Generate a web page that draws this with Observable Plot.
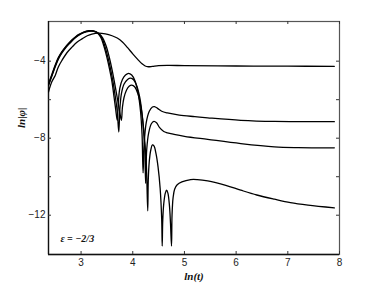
<!DOCTYPE html>
<html>
<head>
<meta charset="utf-8">
<script src="https://cdn.jsdelivr.net/npm/d3@7"></script>
<script src="https://cdn.jsdelivr.net/npm/@observablehq/plot@0.6"></script>
<style>
  html, body { margin: 0; padding: 0; background: #fff; }
  #chart svg { display: block; }
</style>
</head>
<body>
<div id="chart"></div>
<script>
// Axis settings
const xDomain = [2.37, 8];
const yDomain = [-14.04, -1.94];
const xTicks = [3, 4, 5, 6, 7, 8];
const yTicks = [-12, -10, -8, -6, -4];
const yTickLabels = [-12, -8, -4];
const xLabel = "ln(t)";
const yLabel = "ln|φ|";
const note = "ε = −2/3";

// Series values: [ln(t), ln|phi|]
const curveA = [
  [2.37,-5.6],[2.43,-5.1],[2.5,-4.74],[2.56,-4.3],[2.63,-3.96],[2.73,-3.55],[2.825,-3.27],
  [2.92,-3.02],[3.02,-2.84],[3.12,-2.68],[3.21,-2.59],[3.34,-2.54],[3.47,-2.58],[3.6,-2.68],
  [3.7,-2.8],[3.8,-3.0],[3.9,-3.3],[4.0,-3.62],[4.1,-3.92],[4.18,-4.14],[4.24,-4.25],
  [4.3,-4.29],[4.38,-4.27],[4.5,-4.23],[4.7,-4.22],[5.0,-4.23],[6.0,-4.25],[7.0,-4.26],[7.9,-4.27]
];
const curveB = [
  [2.37,-5.17],[2.44,-4.65],[2.5,-4.2],[2.565,-3.79],[2.63,-3.5],[2.695,-3.27],[2.76,-3.07],
  [2.825,-2.89],[2.89,-2.74],[2.95,-2.62],[3.05,-2.49],[3.15,-2.42],[3.22,-2.42],[3.3,-2.5],
  [3.38,-2.75],[3.44,-3.2],[3.5,-3.8],[3.55,-4.4],[3.6,-5.1],[3.64,-5.9],[3.67,-6.5],[3.70,-7.07],
  [3.72,-6.2],[3.75,-5.4],[3.8,-4.95],[3.86,-4.72],[3.92,-4.63],[3.98,-4.72],[4.04,-5.0],
  [4.1,-5.6],[4.15,-6.6],[4.18,-7.8],[4.2,-9.8],
  [4.22,-8.3],[4.26,-7.2],[4.32,-6.6],[4.38,-6.38],[4.42,-6.36],[4.48,-6.45],[4.56,-6.6],
  [4.67,-6.69],[4.9,-6.8],[5.2,-6.88],[5.45,-6.94],[6.09,-7.07],[6.74,-7.13],[7.9,-7.14]
];
const curveC = [
  [2.37,-5.22],[2.44,-4.7],[2.5,-4.25],[2.565,-3.83],[2.63,-3.53],[2.695,-3.3],[2.76,-3.1],
  [2.825,-2.92],[2.89,-2.76],[2.95,-2.64],[3.05,-2.5],[3.15,-2.43],[3.23,-2.43],[3.32,-2.52],
  [3.40,-2.78],[3.46,-3.22],[3.52,-3.8],[3.57,-4.4],[3.62,-5.1],[3.66,-5.8],[3.70,-6.6],[3.73,-7.68],
  [3.75,-6.5],[3.78,-5.7],[3.83,-5.2],[3.9,-4.95],[3.96,-4.88],[4.02,-4.98],[4.08,-5.3],
  [4.14,-5.95],[4.19,-7.0],[4.23,-8.4],[4.25,-10.35],
  [4.27,-8.6],[4.31,-7.7],[4.36,-7.25],[4.41,-7.13],[4.46,-7.2],[4.52,-7.45],[4.6,-7.65],
  [4.67,-7.72],[4.8,-7.8],[5.0,-7.9],[5.45,-8.06],[6.09,-8.28],[6.74,-8.45],[7.2,-8.49],[7.9,-8.5]
];
const curveD = [
  [2.37,-5.26],[2.44,-4.74],[2.5,-4.29],[2.565,-3.87],[2.63,-3.57],[2.695,-3.33],[2.76,-3.13],
  [2.825,-2.95],[2.89,-2.79],[2.95,-2.67],[3.05,-2.52],[3.15,-2.45],[3.24,-2.45],[3.34,-2.55],
  [3.42,-2.8],[3.49,-3.25],[3.55,-3.85],[3.60,-4.45],[3.65,-5.15],[3.70,-5.9],[3.74,-6.5],[3.78,-7.07],
  [3.80,-6.4],[3.83,-5.9],[3.88,-5.5],[3.93,-5.3],[3.98,-5.24],[4.04,-5.34],[4.1,-5.7],
  [4.16,-6.4],[4.21,-7.5],[4.26,-9.2],[4.29,-11.77],
  [4.30,-10.2],[4.32,-9.2],[4.35,-8.6],[4.38,-8.35],[4.41,-8.4],[4.45,-8.8],[4.49,-9.5],
  [4.53,-10.6],[4.56,-12.2],[4.57,-13.6],
  [4.58,-12.3],[4.6,-11.4],[4.63,-10.85],[4.655,-10.7],[4.68,-10.85],[4.71,-11.5],[4.73,-12.4],[4.75,-13.6],
  [4.76,-12.0],[4.78,-11.1],[4.81,-10.65],[4.86,-10.42],[4.95,-10.27],[5.12,-10.15],[5.25,-10.15],
  [5.45,-10.22],[5.8,-10.45],[6.09,-10.7],[6.4,-10.95],[6.74,-11.17],[7.05,-11.35],[7.39,-11.48],[7.9,-11.62]
];

const series = {A: curveA, B: curveB, C: curveC, D: curveD};
const rows = Object.entries(series).flatMap(([name, pts]) =>
  pts.map(([x, y]) => ({series: name, x, y})));

const W = 374, H = 286;
const mL = 48, mR = 35, mT = 21, mB = 32;
const innerW = W - mL - mR, innerH = H - mT - mB;
const tickLen = 3;

const chart = Plot.plot({
  width: W, height: H,
  marginLeft: mL, marginRight: mR, marginTop: mT, marginBottom: mB,
  style: {fontFamily: "'Liberation Sans', Arial, sans-serif", fontSize: "10px", color: "#222", background: "#fff"},
  x: {domain: xDomain, label: null},
  y: {domain: yDomain, label: null},
  marks: [
    Plot.frame({stroke: "#555", strokeWidth: 1.2}),
    Plot.ruleX([xDomain[0]], {stroke: "#111", strokeWidth: 1.3}),
    Plot.ruleY([yDomain[0]], {stroke: "#111", strokeWidth: 1.3}),
    // inward ticks
    Plot.tickX(xTicks, {x: d => d, insetTop: innerH - tickLen, stroke: "#333"}),
    Plot.tickX(xTicks, {x: d => d, insetBottom: innerH - tickLen, stroke: "#333"}),
    Plot.tickY(yTicks, {y: d => d, insetRight: innerW - tickLen, stroke: "#333"}),
    Plot.tickY(yTicks, {y: d => d, insetLeft: innerW - tickLen, stroke: "#333"}),
    Plot.axisX({ticks: xTicks, tickSize: 0, tickPadding: 4, label: null, tickFormat: d => String(d)}),
    Plot.axisY({ticks: yTickLabels, tickSize: 0, tickPadding: 3, label: null,
      tickFormat: d => (d < 0 ? "\u2212" + Math.abs(d) : String(d))}),
    Plot.line(rows, {x: "x", y: "y", z: "series", stroke: "#000", strokeWidth: 1.3,
      curve: "catmull-rom", clip: true}),
    Plot.text([xLabel], {frameAnchor: "bottom", dy: 22, lineAnchor: "middle",
      fontFamily: "'Liberation Serif', 'Times New Roman', serif", fontStyle: "italic",
      fontWeight: "bold", fontSize: 11, fill: "#111"}),
    Plot.text([yLabel], {frameAnchor: "left", dx: -27, dy: -10, rotate: -90, lineAnchor: "middle",
      fontFamily: "'Liberation Serif', 'Times New Roman', serif", fontStyle: "italic",
      fontWeight: "bold", fontSize: 11, fill: "#111"}),
    Plot.text([note], {frameAnchor: "bottom-left", dx: 12, dy: -16, textAnchor: "start",
      lineAnchor: "middle",
      fontFamily: "'Liberation Serif', 'Times New Roman', serif", fontStyle: "italic",
      fontWeight: "bold", fontSize: 10, fill: "#111"})
  ]
});
document.getElementById("chart").appendChild(chart);
</script>
</body>
</html>
